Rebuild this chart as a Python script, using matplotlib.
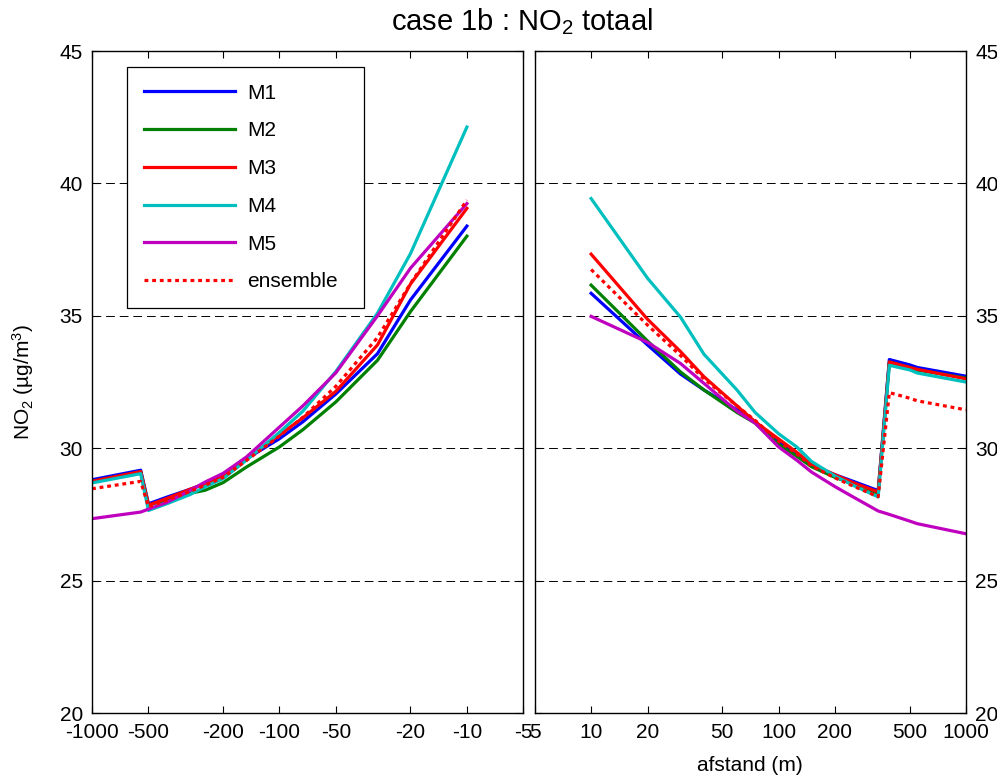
import numpy as np
import matplotlib
matplotlib.use('Agg')
import matplotlib.pyplot as plt
from matplotlib.ticker import FixedLocator, FixedFormatter, NullLocator

plt.rcParams['font.family'] = ['Liberation Sans', 'DejaVu Sans']
plt.rcParams['mathtext.fontset'] = 'custom'
plt.rcParams['mathtext.rm'] = 'Liberation Sans'
plt.rcParams['mathtext.it'] = 'Liberation Sans:italic'

# afstand links (negatief) en rechts van de weg
x_left = [-1000, -550, -500, -400, -300, -250, -200, -150, -100, -75, -50, -30, -20, -10]
x_right = [10, 20, 30, 40, 60, 75, 100, 125, 150, 200, 250, 340, 390, 500, 550, 1000]

m1_left = [28.81, 29.17, 27.90, 28.15, 28.45, 28.66, 28.95, 29.60, 30.36, 31.00, 32.05, 33.57, 35.60, 38.39]
m2_left = [28.75, 29.10, 27.85, 28.05, 28.30, 28.41, 28.70, 29.29, 30.05, 30.70, 31.75, 33.32, 35.16, 38.01]
m3_left = [28.75, 29.12, 27.85, 28.10, 28.45, 28.65, 28.95, 29.60, 30.50, 31.15, 32.15, 33.90, 36.20, 39.06]
m4_left = [28.69, 29.04, 27.65, 27.90, 28.25, 28.54, 28.85, 29.55, 30.60, 31.40, 32.90, 35.10, 37.35, 42.13]
m5_left = [27.34, 27.59, 27.70, 27.95, 28.40, 28.72, 29.05, 29.67, 30.80, 31.60, 32.85, 35.00, 36.80, 39.24]
ens_left = [28.47, 28.75, 27.79, 28.03, 28.37, 28.60, 28.90, 29.54, 30.46, 31.17, 32.34, 34.18, 36.22, 39.37]

m1_right = [35.85, 33.90, 32.80, 32.20, 31.45, 31.00, 30.25, 29.80, 29.35, 29.00, 28.75, 28.40, 33.35, 33.15, 33.05, 32.72]
m2_right = [36.16, 34.05, 32.88, 32.20, 31.35, 30.95, 30.15, 29.70, 29.30, 28.90, 28.65, 28.30, 33.25, 33.05, 32.95, 32.65]
m3_right = [37.33, 34.87, 33.65, 32.70, 31.60, 31.00, 30.35, 29.85, 29.40, 29.00, 28.70, 28.35, 33.26, 33.05, 32.98, 32.62]
m4_right = [39.43, 36.42, 34.95, 33.55, 32.20, 31.35, 30.55, 30.05, 29.50, 28.95, 28.60, 28.16, 33.13, 32.96, 32.84, 32.50]
m5_right = [34.98, 34.00, 33.20, 32.45, 31.40, 30.95, 30.05, 29.55, 29.10, 28.55, 28.16, 27.63, 27.50, 27.25, 27.15, 26.77]
ens_right = [36.75, 34.65, 33.50, 32.62, 31.60, 31.05, 30.27, 29.79, 29.33, 28.88, 28.57, 28.17, 32.10, 31.89, 31.79, 31.45]

labels = ['M1', 'M2', 'M3', 'M4', 'M5', 'ensemble']
colors = ['#0000ff', '#008000', '#ff0000', '#00bfbf', '#bf00bf', '#ff0000']

left_ticks = [-1000, -500, -200, -100, -50, -20, -10, -5]
right_ticks = [5, 10, 20, 50, 100, 200, 500, 1000]
y_ticks = [20, 25, 30, 35, 40, 45]

fig = plt.figure(figsize=(9.97, 7.78), dpi=100)
axL = fig.add_axes([0.0923, 0.0835, 0.4326, 0.8509])
axR = fig.add_axes([0.5363, 0.0835, 0.4326, 0.8509])

left_series = [m1_left, m2_left, m3_left, m4_left, m5_left, ens_left]
right_series = [m1_right, m2_right, m3_right, m4_right, m5_right, ens_right]

xl = -np.array(x_left)
for i in range(6):
    ls = (0, (1.2, 1.2)) if labels[i] == 'ensemble' else '-'
    axL.plot(xl, left_series[i], color=colors[i], lw=2.3, ls=ls, label=labels[i],
             dash_capstyle='butt')
    axR.plot(x_right, right_series[i], color=colors[i], lw=2.3, ls=ls,
             dash_capstyle='butt')

for ax in [axL, axR]:
    ax.set_xscale('log')
    ax.set_ylim(20, 45)
    ax.yaxis.set_major_locator(FixedLocator(y_ticks))
    ax.yaxis.grid(True, linestyle=(0, (9, 5)), color='k', lw=0.7)
    ax.xaxis.set_minor_locator(NullLocator())
    ax.tick_params(direction='in', top=True, right=True, length=5, width=0.8,
                   labelsize=15)
    ax.tick_params(axis='x', pad=7.5)
    ax.tick_params(axis='y', pad=6.5)
    for s in ax.spines.values():
        s.set_linewidth(1.0)

axL.set_xlim(1000, 5)
axL.xaxis.set_major_locator(FixedLocator([-t for t in left_ticks]))
axL.xaxis.set_major_formatter(FixedFormatter([str(t) for t in left_ticks]))
axL.xaxis.set_minor_locator(NullLocator())

axR.set_xlim(5, 1000)
axR.xaxis.set_major_locator(FixedLocator(right_ticks))
axR.xaxis.set_major_formatter(FixedFormatter([str(t) for t in right_ticks]))
axR.xaxis.set_minor_locator(NullLocator())
axR.tick_params(axis='y', labelleft=False, labelright=True)

axL.set_ylabel('NO$_2$ (µg/m$^3$)', fontsize=15, labelpad=17)
axR.set_xlabel('afstand (m)', fontsize=15, labelpad=10)
fig.text(0.523, 1 - 30 / 778, 'case 1b : NO$_2$ totaal', fontsize=21, ha='center',
         va='baseline')

leg = axL.legend(loc='upper left', bbox_to_anchor=(0.0812, 0.0, 237 / 431.3, 0.9758),
                 mode='expand', borderaxespad=0,
                 fontsize=15, handlelength=4.4, handletextpad=0.55,
                 labelspacing=0.9, borderpad=0.8, fancybox=False, framealpha=1,
                 edgecolor='k')
leg.get_frame().set_linewidth(0.9)

fig.savefig('out.png', dpi=100)
